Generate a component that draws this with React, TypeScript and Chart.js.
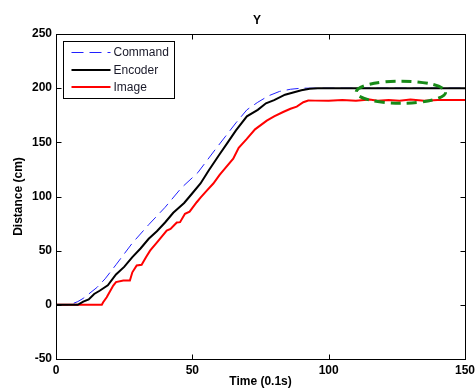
import React, { useEffect, useRef } from "react";
import { Chart, registerables } from "chart.js";

Chart.register(...registerables);

// ---- data ----
const commandT = [0, 5, 8, 10, 12, 15, 18, 22, 28, 34, 40, 46, 52, 58, 62, 66, 70, 74, 78, 82, 86, 90, 95, 150];
const commandY = [0, 0, 3, 6, 10, 16, 24, 37, 57, 74, 90, 108, 122, 142, 155, 168, 180, 187, 193, 197, 199, 200, 200, 200];

const encoderT = [0, 8, 10, 12, 14, 16, 19, 22, 25, 28, 31, 34, 37, 40, 43, 47, 50, 53, 56, 60, 63, 66, 70, 74, 77, 80, 84, 87, 90, 93, 96, 150];
const encoderY = [0, 0, 3, 5, 10, 13, 18, 28, 35, 44, 52, 61, 68, 76, 85, 94, 103, 112, 124, 139, 150, 161, 174, 180, 186, 189, 194, 196, 198, 199.4, 200, 200];

const imageT = [0, 16.8, 17.3, 18.6, 21, 22, 24.7, 27.1, 28, 29.6, 31.4, 33, 34.5, 37.5, 40.6, 42, 44.3, 45.5, 47.3, 49, 51.6, 53, 55.3, 57.7, 60, 62, 65, 67, 69.9, 73, 77.3, 80, 83.3, 86, 88.3, 90.7, 92.5, 95, 100, 105, 110, 115, 118, 122, 126, 130, 135, 140, 145, 150];
const imageY = [0, 0, 2.4, 7, 17.8, 21, 22.4, 22.4, 30, 36.3, 37, 44, 50, 59, 68.6, 70, 76, 76.3, 84, 86, 94.7, 99, 105.5, 112, 120, 126, 135, 145, 153, 162, 170, 174, 178, 181, 183, 187, 188.6, 188.5, 188.5, 189, 188.5, 189.5, 188.5, 189, 188.5, 189.5, 188.5, 189, 189, 189];

const seriesLabels = ["Command", "Encoder", "Image"];
const xTicks = [0, 50, 100, 150];
const yTicks = [-50, 0, 50, 100, 150, 200, 250];
const chartTitle = "Y";
const xTitle = "Time (0.1s)";
const yTitle = "Distance (cm)";
// highlighted region (data units): center t, center y, radius t, radius y
const highlightCenter = [126.5, 196.3];
const highlightRadius = [16.4, 10.2];

const FONT = "'Liberation Sans', Arial, Helvetica, sans-serif";

const toPoints = (t: number[], v: number[]) => t.map((tt, i) => ({ x: tt, y: v[i] }));

const framePlugin = {
  id: "frameTicks",
  afterDatasetsDraw(chart: any) {
    const { ctx, chartArea: a, scales } = chart;
    const x = scales.x;
    const y = scales.y;
    ctx.save();
    // highlight ellipse
    const cx = x.getPixelForValue(highlightCenter[0]);
    const cy = y.getPixelForValue(highlightCenter[1]);
    const rx = Math.abs(x.getPixelForValue(highlightCenter[0] + highlightRadius[0]) - cx);
    const ry = Math.abs(y.getPixelForValue(highlightCenter[1] + highlightRadius[1]) - cy);
    ctx.beginPath();
    ctx.setLineDash([10, 6]);
    ctx.strokeStyle = "#178a17";
    ctx.lineWidth = 3;
    ctx.ellipse(cx, cy, rx, ry, 0, 0, Math.PI * 2);
    ctx.stroke();
    ctx.setLineDash([]);

    // frame
    const L = Math.round(a.left) + 0.5;
    const R = Math.round(a.right) + 0.5;
    const T = Math.round(a.top) + 0.5;
    const B = Math.round(a.bottom) + 0.5;
    ctx.strokeStyle = "#000";
    ctx.lineWidth = 1;
    ctx.strokeRect(L, T, R - L, B - T);
    // inward ticks
    const tl = 5;
    ctx.beginPath();
    xTicks.forEach((v) => {
      const p = Math.round(x.getPixelForValue(v)) + 0.5;
      ctx.moveTo(p, B);
      ctx.lineTo(p, B - tl);
      ctx.moveTo(p, T);
      ctx.lineTo(p, T + tl);
    });
    yTicks.forEach((v) => {
      const p = Math.round(y.getPixelForValue(v)) + 0.5;
      ctx.moveTo(L, p);
      ctx.lineTo(L + tl, p);
      ctx.moveTo(R, p);
      ctx.lineTo(R - tl, p);
    });
    ctx.stroke();

    // title
    ctx.fillStyle = "#000";
    ctx.font = "bold 12px " + FONT;
    ctx.textAlign = "center";
    ctx.textBaseline = "middle";
    ctx.fillText(chartTitle, 257, 21);

    // legend
    const bx = a.left + 7.5;
    const by = a.top + 7.5;
    const bw = 111;
    const bh = 57;
    ctx.fillStyle = "#fff";
    ctx.fillRect(bx, by, bw, bh);
    ctx.strokeStyle = "#000";
    ctx.lineWidth = 1;
    ctx.strokeRect(bx, by, bw, bh);
    const rows = [by + 11, by + 28.5, by + 45.5];
    chart.data.datasets.forEach((ds: any, i: number) => {
      const ry2 = rows[i];
      ctx.beginPath();
      ctx.strokeStyle = ds.borderColor;
      ctx.lineWidth = ds.borderWidth;
      ctx.setLineDash(ds.borderDash || []);
      ctx.moveTo(bx + 8, ry2);
      ctx.lineTo(bx + 47, ry2);
      ctx.stroke();
      ctx.setLineDash([]);
      ctx.fillStyle = "#1a1a2a";
      ctx.font = "12px " + FONT;
      ctx.textAlign = "left";
      ctx.textBaseline = "middle";
      ctx.fillText(ds.label, bx + 50, ry2 + 0.5);
    });
    ctx.restore();
  },
};

export default function App() {
  const ref = useRef<HTMLCanvasElement | null>(null);
  useEffect(() => {
    if (!ref.current) return;
    const chart = new Chart(ref.current, {
      type: "line",
      data: {
        datasets: [
          {
            label: seriesLabels[0],
            data: toPoints(commandT, commandY),
            borderColor: "#2020ff",
            borderWidth: 1,
            borderDash: [12, 6],
            pointRadius: 0,
            tension: 0,
            order: 2,
          },
          {
            label: seriesLabels[1],
            data: toPoints(encoderT, encoderY),
            borderColor: "#000000",
            borderWidth: 2,
            pointRadius: 0,
            tension: 0,
            order: 0,
          },
          {
            label: seriesLabels[2],
            data: toPoints(imageT, imageY),
            borderColor: "#ff0000",
            borderWidth: 2,
            pointRadius: 0,
            tension: 0,
            order: 1,
          },
        ],
      },
      options: {
        responsive: false,
        animation: false,
        layout: { padding: { top: 34, right: 10, left: 0, bottom: 0 } },
        plugins: {
          legend: { display: false },
          title: { display: false },
          tooltip: { enabled: false },
        },
        scales: {
          x: {
            type: "linear",
            min: 0,
            max: 150,
            afterBuildTicks: (s: any) => {
              s.ticks = xTicks.map((v) => ({ value: v }));
            },
            ticks: {
              color: "#000",
              padding: 4,
              font: { family: FONT, size: 12, weight: "bold" },
              maxRotation: 0,
            },
            grid: { display: false, drawTicks: false },
            border: { display: false },
            title: {
              display: true,
              text: xTitle,
              color: "#000",
              font: { family: FONT, size: 12, weight: "bold" },
              padding: { top: 0, bottom: 0 },
            },
            afterFit: (s: any) => {
              s.height = 30;
              s.paddingLeft = 0;
              s.paddingRight = 0;
            },
          },
          y: {
            type: "linear",
            min: -50,
            max: 250,
            afterBuildTicks: (s: any) => {
              s.ticks = yTicks.map((v) => ({ value: v }));
            },
            ticks: {
              color: "#000",
              padding: 4,
              font: { family: FONT, size: 12, weight: "bold" },
            },
            grid: { display: false, drawTicks: false },
            border: { display: false },
            title: {
              display: true,
              text: yTitle,
              color: "#000",
              font: { family: FONT, size: 12, weight: "bold" },
              padding: { top: 11, bottom: 0 },
            },
            afterFit: (s: any) => {
              s.width = 56;
              s.paddingTop = 0;
              s.paddingBottom = 0;
            },
          },
        },
      },
      plugins: [framePlugin],
    } as any);
    return () => chart.destroy();
  }, []);
  return (
    <div style={{ position: "fixed", left: 0, top: 0, width: 475, height: 389, background: "#fff" }}>
      <canvas ref={ref} width={475} height={389} style={{ display: "block" }} />
    </div>
  );
}
